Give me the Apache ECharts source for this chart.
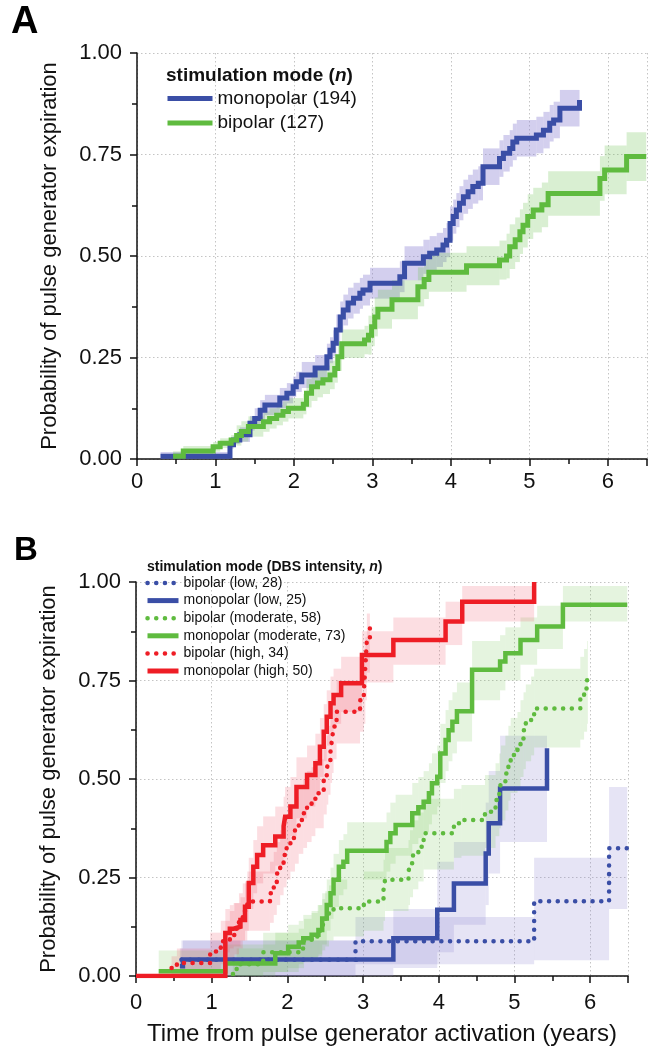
<!DOCTYPE html>
<html><head><meta charset="utf-8">
<script src="https://cdn.jsdelivr.net/npm/echarts@6/dist/echarts.min.js"></script>
<style>html,body{margin:0;padding:0;background:#fff}#c{width:652px;height:1050px}</style>
</head><body><div id="c"></div>
<script>
const FONT = "'Liberation Sans', Arial, Helvetica, sans-serif";
const yTitle = 'Probability of pulse generator expiration';
const xTitle = 'Time from pulse generator activation (years)';
const legendA = ['monopolar (194)', 'bipolar (127)'];
const legendB = ['bipolar (low, 28)', 'monopolar (low, 25)', 'bipolar (moderate, 58)', 'monopolar (moderate, 73)', 'bipolar (high, 34)', 'monopolar (high, 50)'];

// ---- Panel A: monopolar (194)
const aMonoX = [0.3,1.185,1.23,1.31,1.44,1.5,1.57,1.63,1.82,1.91,1.99,2.03,2.10,2.27,2.42,2.46,2.50,2.54,2.59,2.63,2.69,2.76,2.84,2.88,2.97,3.35,3.41,3.65,3.73,3.82,3.90,3.945,3.99,4.03,4.07,4.11,4.16,4.22,4.28,4.35,4.41,4.62,4.67,4.75,4.79,4.84,5.09,5.18,5.26,5.31,5.39,5.64];
const aMonoY = [0.007,0.035,0.047,0.06,0.088,0.10,0.12,0.133,0.15,0.162,0.178,0.19,0.207,0.224,0.252,0.268,0.285,0.318,0.35,0.367,0.384,0.396,0.408,0.416,0.433,0.449,0.482,0.498,0.507,0.515,0.527,0.539,0.58,0.597,0.613,0.63,0.646,0.658,0.671,0.679,0.72,0.74,0.753,0.765,0.781,0.79,0.798,0.81,0.827,0.835,0.864,0.884];
const aMonoLo = [0,.025,.037,.042,.07,.075,.095,.108,.125,.137,.153,.165,.175,.192,.22,.236,.253,.28,.312,.329,.346,.358,.37,.378,.395,.411,.44,.456,.465,.473,.485,.497,.538,.555,.571,.588,.604,.616,.629,.637,.675,.695,.708,.72,.736,.745,.753,.765,.782,.79,.819,.839];
const aMonoHi = [.017,.045,.057,.078,.106,.125,.145,.158,.175,.187,.203,.215,.239,.256,.284,.30,.317,.356,.388,.405,.422,.434,.446,.454,.471,.487,.524,.54,.549,.557,.569,.581,.622,.639,.655,.672,.688,.70,.713,.721,.765,.785,.798,.81,.826,.835,.843,.855,.872,.88,.909,.929];
// ---- Panel A: bipolar (127)
const aBiX = [0.46,0.59,0.97,1.06,1.2,1.27,1.33,1.42,1.61,1.69,1.78,1.86,1.93,2.12,2.16,2.225,2.3,2.37,2.46,2.52,2.56,2.61,2.9,2.95,2.99,3.03,3.07,3.25,3.58,3.66,3.72,4.2,4.62,4.71,4.75,4.82,4.88,4.92,4.98,5.05,5.16,5.24,5.90,5.96,6.24,6.49];
const aBiY = [0.007,0.02,0.03,0.039,0.047,0.058,0.068,0.08,0.092,0.10,0.108,0.117,0.125,0.135,0.162,0.178,0.187,0.195,0.207,0.223,0.252,0.284,0.293,0.305,0.326,0.35,0.369,0.392,0.424,0.442,0.46,0.476,0.49,0.50,0.523,0.54,0.56,0.576,0.597,0.613,0.626,0.654,0.691,0.712,0.745,0.745];
const aBiLo = [0,.008,.018,.027,.035,.033,.043,.055,.067,.075,.083,.092,.10,.11,.127,.143,.152,.16,.172,.188,.217,.249,.258,.257,.278,.302,.321,.344,.376,.394,.412,.428,.442,.445,.468,.485,.505,.521,.542,.558,.571,.599,.636,.652,.685,.685];
const aBiHi = [.019,.032,.042,.051,.059,.083,.093,.105,.117,.125,.133,.142,.15,.16,.197,.213,.222,.23,.242,.258,.287,.319,.328,.353,.374,.398,.417,.44,.472,.49,.508,.524,.538,.555,.578,.595,.615,.631,.652,.668,.681,.709,.746,.772,.805,.805];

// ---- Panel B
const bBiLowX = [0.6,2.9,5.26,6.25,6.49];
const bBiLowY = [0.041,0.088,0.19,0.324,0.324];
const bBiLowLo = [0,0.03,0.04,0.17,0.17];
const bBiLowHi = [0.09,0.15,0.30,0.48,0.48];

const bMonoLowX = [0.58,0.62,3.40,3.98,4.2,4.62,4.66,4.81,5.43];
const bMonoLowY = [0.025,0.042,0.096,0.168,0.235,0.311,0.388,0.476,0.578];
const bMonoLowLo = [0,0,0.02,0.06,0.13,0.18,0.26,0.34,0.34];
const bMonoLowHi = [0.07,0.09,0.17,0.29,0.34,0.44,0.52,0.61,0.61];

const bBiModX = [1.28,1.33,1.68,2.15,2.22,2.32,2.4,2.46,2.5,2.55,2.61,3.01,3.27,3.29,3.6,3.62,3.66,3.73,3.8,4.2,4.3,4.61,4.75,4.8,4.82,4.88,4.92,4.95,5.04,5.08,5.12,5.15,5.22,5.26,5.87,5.92,5.96,5.97];
const bBiModY = [0.005,0.03,0.06,0.07,0.09,0.1,0.115,0.13,0.145,0.16,0.172,0.189,0.218,0.244,0.264,0.286,0.307,0.328,0.362,0.388,0.396,0.417,0.447,0.47,0.489,0.514,0.54,0.561,0.574,0.603,0.624,0.645,0.66,0.679,0.709,0.73,0.751,0.768];
const bBiModLo = [0,0,.01,.02,.035,.04,.05,.065,.075,.09,.1,.115,.14,.165,.18,.2,.22,.24,.27,.3,.305,.325,.355,.375,.395,.42,.445,.465,.475,.505,.525,.545,.56,.58,.6,.62,.64,.66];
const bBiModHi = [.03,.07,.11,.12,.145,.16,.18,.195,.215,.23,.245,.265,.295,.325,.345,.37,.395,.415,.45,.475,.485,.51,.54,.565,.585,.61,.635,.655,.67,.70,.72,.74,.76,.78,.81,.83,.85,.87];

const bMonoModX = [0.3,1.18,1.84,2.01,2.15,2.21,2.32,2.41,2.46,2.52,2.57,2.61,2.68,2.74,2.79,3.31,3.36,3.43,3.65,3.73,3.80,3.87,3.91,3.98,4.02,4.09,4.13,4.18,4.24,4.44,4.81,4.88,5.08,5.30,5.64,6.49];
const bMonoModY = [0.012,0.032,0.058,0.074,0.085,0.096,0.105,0.117,0.146,0.18,0.21,0.244,0.277,0.29,0.318,0.34,0.362,0.383,0.413,0.428,0.442,0.464,0.489,0.506,0.565,0.599,0.624,0.645,0.672,0.777,0.798,0.819,0.853,0.887,0.942,0.942];
const bMonoModLo = [0,0,.01,.02,.03,.04,.045,.055,.08,.115,.145,.175,.205,.22,.245,.265,.285,.305,.335,.35,.365,.385,.41,.43,.49,.52,.545,.565,.595,.70,.725,.75,.79,.83,.90,.90];
const bMonoModHi = [.065,.08,.11,.13,.14,.155,.165,.18,.21,.245,.275,.31,.345,.36,.39,.415,.44,.46,.49,.505,.52,.54,.565,.585,.64,.675,.70,.72,.745,.85,.865,.885,.91,.94,.99,.99];

const bBiHighX = [0.47,0.54,0.98,1.12,1.24,1.3,1.36,1.41,1.47,1.77,1.82,1.86,1.905,1.95,1.99,2.04,2.10,2.15,2.21,2.26,2.32,2.37,2.48,2.52,2.54,2.57,2.59,2.61,2.65,2.96,3.01,3.03,3.05,3.09];
const bBiHighY = [0.02,0.033,0.062,0.088,0.104,0.12,0.14,0.165,0.189,0.21,0.235,0.26,0.286,0.307,0.328,0.35,0.37,0.396,0.413,0.43,0.442,0.464,0.497,0.523,0.548,0.574,0.60,0.633,0.671,0.70,0.72,0.785,0.853,0.89];
const bBiHighLo = [0,0,.01,.03,.045,.055,.07,.09,.115,.135,.155,.18,.205,.225,.245,.265,.285,.31,.325,.34,.355,.375,.41,.435,.46,.49,.515,.55,.59,.62,.64,.70,.77,.81];
const bBiHighHi = [.05,.07,.11,.14,.165,.185,.21,.235,.265,.29,.315,.34,.37,.39,.41,.435,.455,.48,.50,.52,.53,.55,.585,.61,.635,.66,.685,.715,.75,.78,.80,.86,.92,.95];

const bMonoHighX = [0,1.18,1.24,1.29,1.38,1.44,1.49,1.55,1.6,1.68,1.84,1.95,1.97,2.04,2.12,2.26,2.37,2.43,2.48,2.52,2.57,2.61,2.71,2.985,3.40,4.09,4.31,5.26];
const bMonoHighY = [0,0.109,0.12,0.125,0.142,0.176,0.236,0.277,0.307,0.332,0.354,0.38,0.404,0.43,0.48,0.51,0.54,0.582,0.62,0.658,0.692,0.713,0.743,0.815,0.853,0.90,0.95,1.0];
const bMonoHighLo = [0,.06,.07,.075,.09,.115,.17,.21,.235,.26,.28,.305,.33,.355,.40,.43,.46,.505,.545,.585,.62,.64,.67,.745,.79,.84,.90,1.0];
const bMonoHighHi = [0,.17,.18,.185,.20,.24,.30,.345,.38,.405,.43,.455,.48,.505,.555,.585,.615,.655,.69,.725,.76,.78,.81,.875,.91,.95,.99,1.0];

const BLUE = '#3a4ea6', GREEN = '#5fbb3f', RED = '#ee1d25';
const BLUE_BAND_A = 'rgba(140,130,210,0.38)', GREEN_BAND_A = 'rgba(110,195,80,0.26)';
const BLUE_BAND_B = 'rgba(140,130,210,0.22)', GREEN_BAND_B = 'rgba(110,195,80,0.18)', RED_BAND_B = 'rgba(240,90,110,0.2)';
const DOT = [0.1, 8.6];

function pts(xs, ys) { return xs.map((x, i) => [x, ys[i]]); }
function bandData(xs, lo, hi) {
  const out = [];
  for (let i = 0; i < xs.length - 1; i++) out.push([xs[i], xs[i + 1], lo[i], hi[i]]);
  return out;
}
function bandSeries(id, gi, xs, lo, hi, fill) {
  return {
    type: 'custom', id, name: id, xAxisIndex: gi, yAxisIndex: gi, silent: true, z: 1, clip: true,
    data: bandData(xs, lo, hi), encode: { x: [0, 1], y: [2, 3] },
    renderItem(params, api) {
      const p0 = api.coord([api.value(0), api.value(3)]);
      const p1 = api.coord([api.value(1), api.value(2)]);
      return { type: 'rect', shape: { x: p0[0], y: p0[1], width: p1[0] - p0[0], height: p1[1] - p0[1] }, style: { fill } };
    }
  };
}
function stepSeries(name, gi, xs, ys, color, width, dotted) {
  return {
    type: 'line', name, xAxisIndex: gi, yAxisIndex: gi, step: 'end', symbol: 'none', z: 3,
    data: pts(xs, ys), emphasis: { disabled: true }, itemStyle: { color },
    lineStyle: { color, width, type: dotted ? DOT : 'solid', cap: dotted ? 'round' : 'butt', join: 'miter' }
  };
}
function xAx(gi, name, margin) {
  return {
    type: 'value', gridIndex: gi, min: 0, max: 6.5, interval: 1,
    axisLine: { show: true, onZero: false, lineStyle: { color: '#111', width: 1.5 } },
    axisTick: { show: true, inside: false, length: 7, lineStyle: { color: '#111', width: 1.5 } },
    minorTick: { show: true, splitNumber: 2, length: 5, lineStyle: { color: '#111', width: 1.5 } },
    axisLabel: { fontSize: 22, color: '#111', fontFamily: FONT, margin, showMaxLabel: false },
    splitLine: { show: true, lineStyle: { color: '#c4c4c4', width: 1, type: [1.5, 2.5] } },
    name, nameLocation: 'middle', nameGap: 46,
    nameTextStyle: { fontSize: 24, color: '#111', fontFamily: FONT }
  };
}
function yAx(gi) {
  return {
    type: 'value', gridIndex: gi, min: 0, max: 1, interval: 0.25,
    axisLine: { show: true, lineStyle: { color: '#111', width: 1.5 } },
    axisTick: { show: true, inside: false, length: 7, lineStyle: { color: '#111', width: 1.5 } },
    minorTick: { show: true, splitNumber: 2, length: 5, lineStyle: { color: '#111', width: 1.5 } },
    axisLabel: { fontSize: 22, color: '#111', fontFamily: FONT, margin: 15, formatter: v => v.toFixed(2) },
    splitLine: { show: true, lineStyle: { color: '#c4c4c4', width: 1, type: [1.5, 2.5] } },
    name: yTitle, nameLocation: 'middle', nameGap: 76,
    nameTextStyle: { fontSize: 22, color: '#111', fontFamily: FONT }
  };
}
const hiddenSymbol = { color: 'rgba(0,0,0,0)', borderWidth: 0, opacity: 0 };

const option = {
  animation: false,
  backgroundColor: '#fff',
  grid: [
    { left: 137, top: 53, width: 510, height: 406 },
    { left: 136, top: 582, width: 492, height: 394 }
  ],
  xAxis: [xAx(0, '', 12), xAx(1, xTitle, 16)],
  yAxis: [yAx(0), yAx(1)],
  legend: [
    {
      left: 165, top: 89, orient: 'vertical', padding: 0, itemWidth: 45, itemHeight: 14, itemGap: 5.4,
      selectedMode: false, textStyle: { fontSize: 19, fontFamily: FONT, color: '#111' },
      itemStyle: hiddenSymbol,
      data: [
        { name: legendA[0], lineStyle: { width: 5, type: 'solid' }, itemStyle: hiddenSymbol },
        { name: legendA[1], lineStyle: { width: 5, type: 'solid' }, itemStyle: hiddenSymbol }
      ]
    },
    {
      left: 145, top: 576, orient: 'vertical', padding: 0, itemWidth: 31, itemHeight: 14, itemGap: 3.6,
      selectedMode: false, textStyle: { fontSize: 14, fontFamily: FONT, color: '#111' },
      itemStyle: hiddenSymbol,
      data: legendB.map((n, i) => ({ name: n, itemStyle: hiddenSymbol,
        lineStyle: i % 2 === 0 ? { width: 4.5, type: DOT, cap: 'round' } : { width: 5, type: 'solid', cap: 'butt' } }))
    }
  ],
  graphic: [
    { type: 'text', left: 11, top: 4, style: { text: 'A', font: 'bold 38px ' + FONT, fill: '#000' } },
    { type: 'text', left: 14, top: 534, style: { text: 'B', font: 'bold 33px ' + FONT, fill: '#000' } },
    { type: 'text', left: 166, top: 66, style: { text: '{b|stimulation mode (}{bi|n}{b|)}', rich: {
      b: { fontSize: 19, fontWeight: 'bold', fontFamily: FONT, fill: '#111' },
      bi: { fontSize: 19, fontWeight: 'bold', fontStyle: 'italic', fontFamily: FONT, fill: '#111' } } } },
    { type: 'text', left: 147, top: 560, style: { text: '{b|stimulation mode (DBS intensity, }{bi|n}{b|)}', rich: {
      b: { fontSize: 14, fontWeight: 'bold', fontFamily: FONT, fill: '#111' },
      bi: { fontSize: 14, fontWeight: 'bold', fontStyle: 'italic', fontFamily: FONT, fill: '#111' } } } }
  ],
  series: [
    bandSeries('bandAMono', 0, aMonoX, aMonoLo, aMonoHi, BLUE_BAND_A),
    bandSeries('bandABi', 0, aBiX, aBiLo, aBiHi, GREEN_BAND_A),
    stepSeries(legendA[0], 0, aMonoX, aMonoY, BLUE, 5, false),
    stepSeries(legendA[1], 0, aBiX, aBiY, GREEN, 5, false),

    bandSeries('bandBBiLow', 1, bBiLowX, bBiLowLo, bBiLowHi, BLUE_BAND_B),
    bandSeries('bandBMonoLow', 1, bMonoLowX, bMonoLowLo, bMonoLowHi, BLUE_BAND_B),
    bandSeries('bandBBiMod', 1, bBiModX, bBiModLo, bBiModHi, GREEN_BAND_B),
    bandSeries('bandBMonoMod', 1, bMonoModX, bMonoModLo, bMonoModHi, GREEN_BAND_B),
    bandSeries('bandBBiHigh', 1, bBiHighX, bBiHighLo, bBiHighHi, RED_BAND_B),
    bandSeries('bandBMonoHigh', 1, bMonoHighX, bMonoHighLo, bMonoHighHi, RED_BAND_B),
    stepSeries(legendB[0], 1, bBiLowX, bBiLowY, BLUE, 4.5, true),
    stepSeries(legendB[1], 1, bMonoLowX, bMonoLowY, BLUE, 4.5, false),
    stepSeries(legendB[2], 1, bBiModX, bBiModY, GREEN, 4.5, true),
    stepSeries(legendB[3], 1, bMonoModX, bMonoModY, GREEN, 4.5, false),
    stepSeries(legendB[4], 1, bBiHighX, bBiHighY, RED, 4.5, true),
    stepSeries(legendB[5], 1, bMonoHighX, bMonoHighY, RED, 4.5, false)
  ]
};
const chart = echarts.init(document.getElementById('c'), null, { renderer: 'canvas' });
chart.setOption(option);
</script></body></html>
